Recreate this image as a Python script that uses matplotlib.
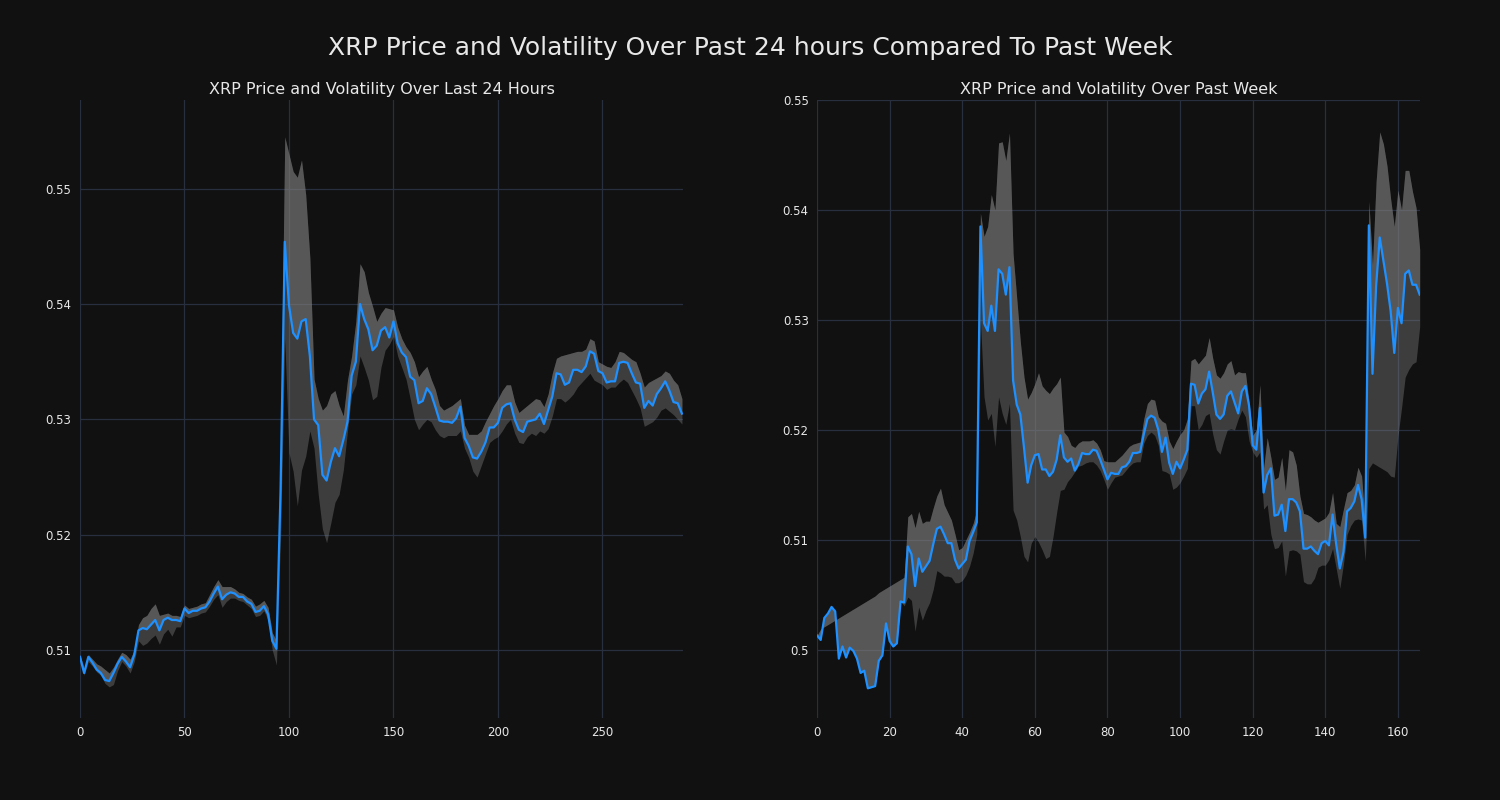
import numpy as np
import matplotlib.pyplot as plt

# ---- last 24 hours (5-minute steps, every second sample) ----
day_step = np.arange(0, 289, 2)
day_price = [
    0.5094, 0.5080, 0.5094, 0.5089, 0.5083, 0.5080, 0.5074, 0.5073, 0.5080, 0.5088,
    0.5094, 0.5090, 0.5085, 0.5096, 0.5117, 0.5119, 0.5118, 0.5122, 0.5126, 0.5117,
    0.5126, 0.5128, 0.5126, 0.5126, 0.5125, 0.5136, 0.5132, 0.5134, 0.5134, 0.5136,
    0.5137, 0.5142, 0.5149, 0.5155, 0.5144, 0.5148, 0.5150, 0.5149, 0.5146, 0.5146,
    0.5142, 0.5140, 0.5133, 0.5134, 0.5138, 0.5131, 0.5108, 0.5101, 0.5240, 0.5454,
    0.5399, 0.5375, 0.5370, 0.5385, 0.5387, 0.5355, 0.5300, 0.5295, 0.5252, 0.5247,
    0.5263, 0.5275, 0.5268, 0.5282, 0.5298, 0.5338, 0.5350, 0.5400, 0.5387, 0.5378,
    0.5360, 0.5364, 0.5377, 0.5380, 0.5371, 0.5385, 0.5366, 0.5358, 0.5354, 0.5337,
    0.5334, 0.5314, 0.5316, 0.5327, 0.5322, 0.5311, 0.5299, 0.5298, 0.5298, 0.5297,
    0.5301, 0.5311, 0.5284, 0.5277, 0.5267, 0.5266, 0.5272, 0.5280, 0.5293, 0.5293,
    0.5297, 0.5310, 0.5313, 0.5314, 0.5300, 0.5291, 0.5289, 0.5298, 0.5299, 0.5300,
    0.5305, 0.5296, 0.5308, 0.5320, 0.5340, 0.5339, 0.5330, 0.5332, 0.5343, 0.5343,
    0.5341, 0.5346, 0.5359, 0.5357, 0.5342, 0.5340, 0.5332, 0.5333, 0.5333, 0.5349,
    0.5350, 0.5349, 0.5340, 0.5332, 0.5331, 0.5310, 0.5316, 0.5312, 0.5322, 0.5327,
    0.5333, 0.5325, 0.5315, 0.5314, 0.5305,
]
day_high = [
    0.5096, 0.5084, 0.5096, 0.5092, 0.5088, 0.5086, 0.5083, 0.5080, 0.5085, 0.5092,
    0.5098, 0.5096, 0.5092, 0.5100, 0.5122, 0.5128, 0.5130, 0.5136, 0.5140, 0.5130,
    0.5131, 0.5132, 0.5130, 0.5130, 0.5129, 0.5139, 0.5136, 0.5137, 0.5138, 0.5140,
    0.5141, 0.5148, 0.5155, 0.5161, 0.5155, 0.5155, 0.5155, 0.5153, 0.5150, 0.5149,
    0.5146, 0.5144, 0.5138, 0.5140, 0.5143, 0.5137, 0.5115, 0.5108, 0.5280, 0.5545,
    0.5530, 0.5515, 0.5510, 0.5525, 0.5495, 0.5440, 0.5335, 0.5318, 0.5308, 0.5312,
    0.5322, 0.5325, 0.5312, 0.5303, 0.5334, 0.5355, 0.5385, 0.5435, 0.5428, 0.5410,
    0.5398, 0.5385, 0.5392, 0.5397, 0.5396, 0.5395, 0.5380, 0.5370, 0.5363, 0.5358,
    0.5350, 0.5337, 0.5342, 0.5346, 0.5335, 0.5326, 0.5312, 0.5308, 0.5310, 0.5312,
    0.5315, 0.5318, 0.5295, 0.5287, 0.5287, 0.5287, 0.5290, 0.5298, 0.5305, 0.5312,
    0.5318, 0.5325, 0.5330, 0.5330, 0.5315, 0.5306, 0.5309, 0.5312, 0.5315, 0.5318,
    0.5317, 0.5311, 0.5322, 0.5340, 0.5353, 0.5355, 0.5356, 0.5357, 0.5358, 0.5359,
    0.5359, 0.5361, 0.5370, 0.5368, 0.5350, 0.5348, 0.5346, 0.5345, 0.5350, 0.5359,
    0.5358, 0.5355, 0.5352, 0.5350, 0.5340, 0.5328, 0.5332, 0.5334, 0.5336, 0.5338,
    0.5342, 0.5340, 0.5334, 0.5330, 0.5318,
]
day_low = [
    0.5092, 0.5078, 0.5090, 0.5086, 0.5081, 0.5078, 0.5071, 0.5068, 0.5070, 0.5082,
    0.5090, 0.5086, 0.5080, 0.5090, 0.5108, 0.5104, 0.5106, 0.5110, 0.5113, 0.5105,
    0.5114, 0.5118, 0.5112, 0.5120, 0.5120, 0.5130, 0.5128, 0.5129, 0.5130, 0.5132,
    0.5133, 0.5138, 0.5144, 0.5148, 0.5137, 0.5142, 0.5145, 0.5145, 0.5143, 0.5142,
    0.5139, 0.5136, 0.5129, 0.5130, 0.5134, 0.5126, 0.5100, 0.5087, 0.5200, 0.5370,
    0.5271, 0.5255, 0.5225, 0.5256, 0.5268, 0.5290, 0.5275, 0.5235, 0.5205, 0.5193,
    0.5210, 0.5228, 0.5235, 0.5256, 0.5290, 0.5322, 0.5330, 0.5355, 0.5345, 0.5334,
    0.5317, 0.5320, 0.5345, 0.5360, 0.5365, 0.5372, 0.5355, 0.5345, 0.5335, 0.5318,
    0.5300, 0.5291, 0.5296, 0.5300, 0.5298, 0.5291, 0.5286, 0.5284, 0.5286, 0.5286,
    0.5286, 0.5290, 0.5275, 0.5267, 0.5255, 0.5250, 0.5260, 0.5270, 0.5280, 0.5283,
    0.5285, 0.5290, 0.5296, 0.5300, 0.5288, 0.5280, 0.5279, 0.5285, 0.5288, 0.5286,
    0.5290, 0.5288, 0.5292, 0.5303, 0.5318, 0.5318, 0.5315, 0.5318, 0.5322, 0.5328,
    0.5332, 0.5336, 0.5340, 0.5334, 0.5332, 0.5330, 0.5326, 0.5328, 0.5328, 0.5332,
    0.5335, 0.5332, 0.5325, 0.5318, 0.5310, 0.5294, 0.5296, 0.5298, 0.5302, 0.5308,
    0.5310, 0.5307, 0.5304, 0.5300, 0.5296,
]

# ---- past week (hourly) ----
week_step = np.arange(0, 167)
week_price = [
    0.5013, 0.5009, 0.5029, 0.5033, 0.5039, 0.5035, 0.4992, 0.5003, 0.4993, 0.5002,
    0.4999, 0.4992, 0.4979, 0.4981, 0.4965, 0.4966, 0.4967, 0.4990, 0.4995, 0.5024,
    0.5008, 0.5003, 0.5006, 0.5044, 0.5043, 0.5094, 0.5087, 0.5058, 0.5083, 0.5071,
    0.5076, 0.5081, 0.5096, 0.5110, 0.5112, 0.5105, 0.5097, 0.5097, 0.5082, 0.5074,
    0.5078, 0.5082, 0.5099, 0.5107, 0.5116, 0.5385, 0.5297, 0.5290, 0.5313, 0.5290,
    0.5346, 0.5342, 0.5323, 0.5348, 0.5245, 0.5223, 0.5214, 0.5184, 0.5152, 0.5168,
    0.5177, 0.5178, 0.5164, 0.5164, 0.5158, 0.5162, 0.5173, 0.5195, 0.5175, 0.5171,
    0.5174, 0.5163, 0.5169, 0.5179, 0.5178, 0.5178, 0.5182, 0.5181, 0.5173, 0.5164,
    0.5155, 0.5161, 0.5160, 0.5160, 0.5166, 0.5167, 0.5171, 0.5179, 0.5179, 0.5180,
    0.5196, 0.5210, 0.5213, 0.5211, 0.5200, 0.5180, 0.5193, 0.5170, 0.5160, 0.5171,
    0.5165, 0.5173, 0.5182, 0.5242, 0.5241, 0.5224, 0.5233, 0.5237, 0.5253, 0.5234,
    0.5214, 0.5210, 0.5214, 0.5231, 0.5235, 0.5225, 0.5215, 0.5235, 0.5240, 0.5222,
    0.5186, 0.5182, 0.5220, 0.5143, 0.5159, 0.5165, 0.5122, 0.5123, 0.5132, 0.5108,
    0.5137, 0.5137, 0.5134, 0.5126, 0.5092, 0.5092, 0.5094, 0.5090, 0.5087, 0.5097,
    0.5099, 0.5095, 0.5123, 0.5096, 0.5074, 0.5089, 0.5126, 0.5129, 0.5135, 0.5150,
    0.5137, 0.5102, 0.5386, 0.5251, 0.5331, 0.5375, 0.5354, 0.5333, 0.5308, 0.5270,
    0.5311, 0.5297, 0.5342, 0.5345, 0.5332, 0.5332, 0.5323,
]
week_high = [
    0.5013, 0.5019, 0.5021, 0.5023, 0.5025, 0.5027, 0.5029, 0.5031, 0.5033, 0.5035,
    0.5037, 0.5039, 0.5041, 0.5043, 0.5045, 0.5047, 0.5049, 0.5052, 0.5054, 0.5056,
    0.5058, 0.5060, 0.5062, 0.5064, 0.5066, 0.5121, 0.5124, 0.5111, 0.5126, 0.5115,
    0.5117, 0.5117, 0.5129, 0.5140, 0.5147, 0.5132, 0.5125, 0.5118, 0.5105, 0.5091,
    0.5093, 0.5100, 0.5107, 0.5115, 0.5127, 0.5397, 0.5376, 0.5385, 0.5414, 0.5400,
    0.5461, 0.5462, 0.5445, 0.5470, 0.5360, 0.5320, 0.5280, 0.5248, 0.5228, 0.5234,
    0.5242, 0.5252, 0.5240, 0.5236, 0.5233, 0.5238, 0.5242, 0.5248, 0.5198, 0.5194,
    0.5186, 0.5184, 0.5188, 0.5190, 0.5190, 0.5190, 0.5191, 0.5188, 0.5182, 0.5172,
    0.5171, 0.5171, 0.5171, 0.5174, 0.5177, 0.5181, 0.5185, 0.5187, 0.5188, 0.5189,
    0.5210, 0.5224, 0.5228, 0.5227, 0.5212, 0.5208, 0.5206, 0.5190, 0.5183, 0.5190,
    0.5196, 0.5200, 0.5210, 0.5263, 0.5265, 0.5260, 0.5264, 0.5268, 0.5284, 0.5265,
    0.5250, 0.5247, 0.5252, 0.5260, 0.5263, 0.5250, 0.5253, 0.5252, 0.5252, 0.5225,
    0.5195, 0.5200, 0.5241, 0.5165, 0.5193, 0.5175, 0.5155, 0.5157, 0.5175, 0.5145,
    0.5182, 0.5180, 0.5168, 0.5140, 0.5124, 0.5123, 0.5121, 0.5118, 0.5116, 0.5118,
    0.5120, 0.5125, 0.5143, 0.5115, 0.5112, 0.5128, 0.5143, 0.5145, 0.5150, 0.5166,
    0.5158, 0.5115, 0.5408, 0.5350, 0.5426, 0.5471, 0.5460, 0.5440, 0.5410, 0.5385,
    0.5418, 0.5400, 0.5436, 0.5436, 0.5417, 0.5402, 0.5364,
]
week_low = [
    0.5013, 0.5009, 0.5029, 0.5033, 0.5039, 0.5035, 0.4992, 0.5003, 0.4993, 0.5002,
    0.4999, 0.4992, 0.4979, 0.4981, 0.4965, 0.4966, 0.4967, 0.4990, 0.4995, 0.5024,
    0.5008, 0.5003, 0.5006, 0.5044, 0.5040, 0.5048, 0.5045, 0.5017, 0.5039, 0.5027,
    0.5036, 0.5043, 0.5055, 0.5072, 0.5070, 0.5067, 0.5067, 0.5066, 0.5061, 0.5061,
    0.5063, 0.5068, 0.5076, 0.5088, 0.5105, 0.5300, 0.5230, 0.5209, 0.5215, 0.5185,
    0.5230, 0.5215, 0.5205, 0.5224, 0.5127, 0.5118, 0.5103, 0.5085, 0.5080, 0.5097,
    0.5103, 0.5098, 0.5091, 0.5083, 0.5085, 0.5103, 0.5125, 0.5145, 0.5146, 0.5153,
    0.5157, 0.5162, 0.5167, 0.5168, 0.5170, 0.5171, 0.5171, 0.5168, 0.5163, 0.5155,
    0.5146, 0.5152, 0.5157, 0.5158, 0.5159, 0.5163, 0.5167, 0.5170, 0.5171, 0.5171,
    0.5188, 0.5195, 0.5198, 0.5195, 0.5186, 0.5163, 0.5162, 0.5160, 0.5146, 0.5148,
    0.5152, 0.5158, 0.5165, 0.5222, 0.5222, 0.5200, 0.5205, 0.5213, 0.5215, 0.5196,
    0.5182, 0.5178, 0.5190, 0.5200, 0.5201, 0.5200, 0.5210, 0.5218, 0.5212, 0.5190,
    0.5180, 0.5175, 0.5180, 0.5128, 0.5132, 0.5105, 0.5092, 0.5093, 0.5099, 0.5067,
    0.5090, 0.5091, 0.5090, 0.5087, 0.5062, 0.5060, 0.5060, 0.5065, 0.5075, 0.5077,
    0.5077, 0.5082, 0.5092, 0.5074, 0.5056, 0.5078, 0.5105, 0.5113, 0.5118, 0.5119,
    0.5118, 0.5081, 0.5165, 0.5170, 0.5168, 0.5166, 0.5164, 0.5162, 0.5158, 0.5157,
    0.5194, 0.5220, 0.5248, 0.5255, 0.5260, 0.5262, 0.5294,
]

bg = '#111111'
grid_col = '#283040'
text_col = '#e8e8e8'

fig = plt.figure(figsize=(15, 8), dpi=100, facecolor=bg)
ax1 = fig.add_axes([0.0533, 0.1025, 0.402, 0.7725])
ax2 = fig.add_axes([0.5447, 0.1025, 0.402, 0.7725])

panels = [
    (ax1, day_step, day_price, day_high, day_low,
     'XRP Price and Volatility Over Last 24 Hours', (0, 288.5), (0.5041, 0.5577),
     [0.51, 0.52, 0.53, 0.54, 0.55]),
    (ax2, week_step, week_price, week_high, week_low,
     'XRP Price and Volatility Over Past Week', (0, 166.1), (0.4938, 0.5500),
     [0.50, 0.51, 0.52, 0.53, 0.54, 0.55]),
]

for ax, x, price, high, low, title, xlim, ylim, yticks in panels:
    ax.set_facecolor(bg)
    ax.fill_between(x, low, high, color='gray', alpha=0.4, linewidth=0)
    ax.fill_between(x, price, high, color='gray', alpha=0.4, linewidth=0)
    ax.plot(x, price, color='#1e90ff', linewidth=1.6)
    ax.set_xlim(*xlim)
    ax.set_ylim(*ylim)
    ax.set_yticks(yticks)
    ax.set_yticklabels([f'{v:g}' for v in yticks])
    ax.grid(True, color=grid_col, linewidth=0.9)
    ax.set_axisbelow(True)
    for s in ax.spines.values():
        s.set_visible(False)
    ax.tick_params(colors=text_col, labelsize=8.5, length=0, pad=6)
    ax.set_title(title, color=text_col, fontsize=11.5, pad=4)

fig.suptitle('XRP Price and Volatility Over Past 24 hours Compared To Past Week',
             color=text_col, fontsize=18, y=0.955)

fig.savefig('out.png', facecolor=bg)
